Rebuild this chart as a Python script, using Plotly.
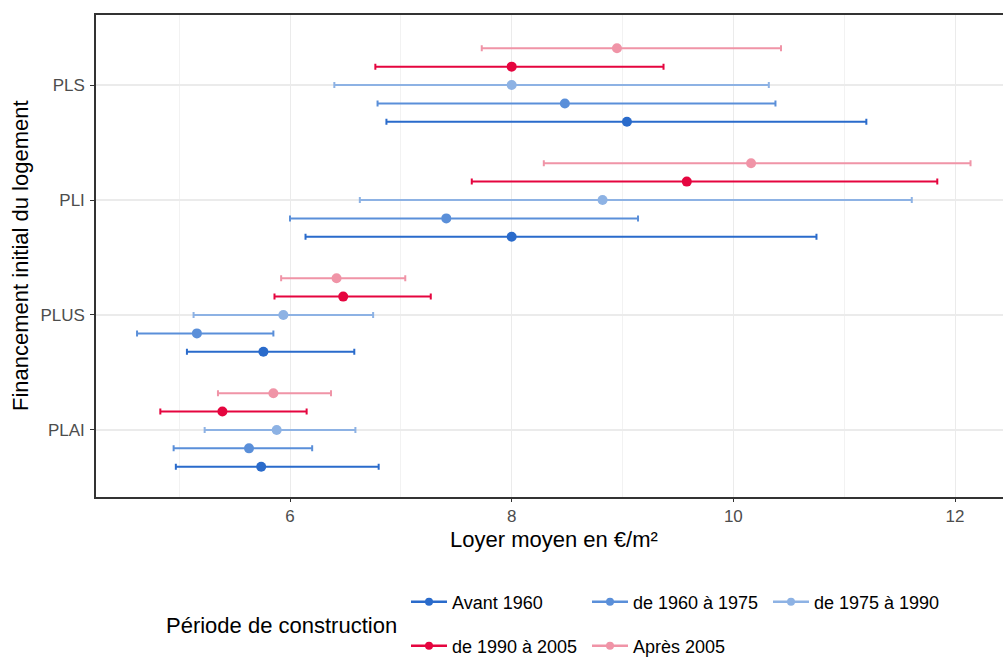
import plotly.graph_objects as go

# Funding categories (bottom to top) and construction periods
categories = ["PLAI", "PLUS", "PLI", "PLS"]
periods = ["Avant 1960", "de 1960 à 1975", "de 1975 à 1990", "de 1990 à 2005", "Après 2005"]
colors = ["#2A6BCB", "#5A8FD9", "#8DB2E4", "#E5053F", "#F094A7"]

# Mean rent (€/m²) and interval bounds, one value per category
avant_1960_mean = [5.74, 5.76, 8.00, 9.04]
avant_1960_low = [4.97, 5.07, 6.14, 6.87]
avant_1960_high = [6.80, 6.58, 10.75, 11.20]

p1960_1975_mean = [5.63, 5.16, 7.41, 8.48]
p1960_1975_low = [4.95, 4.62, 6.00, 6.79]
p1960_1975_high = [6.20, 5.85, 9.14, 10.38]

p1975_1990_mean = [5.88, 5.94, 8.82, 8.00]
p1975_1990_low = [5.23, 5.13, 6.63, 6.40]
p1975_1990_high = [6.59, 6.75, 11.61, 10.32]

p1990_2005_mean = [5.39, 6.48, 9.58, 8.00]
p1990_2005_low = [4.83, 5.86, 7.64, 6.77]
p1990_2005_high = [6.15, 7.27, 11.84, 9.37]

apres_2005_mean = [5.85, 6.42, 10.16, 8.95]
apres_2005_low = [5.35, 5.92, 8.29, 7.73]
apres_2005_high = [6.37, 7.04, 12.14, 10.43]

x_ticks = [6, 8, 10, 12]

series = [
    (avant_1960_mean, avant_1960_low, avant_1960_high),
    (p1960_1975_mean, p1960_1975_low, p1960_1975_high),
    (p1975_1990_mean, p1975_1990_low, p1975_1990_high),
    (p1990_2005_mean, p1990_2005_low, p1990_2005_high),
    (apres_2005_mean, apres_2005_low, apres_2005_high),
]

dodge_width = 0.8
n = len(periods)
step = dodge_width / n

fig = go.Figure()

for i, (name, color, (mean, low, high)) in enumerate(zip(periods, colors, series)):
    offset = (i - (n - 1) / 2) * step
    ys = [k + 1 + offset for k in range(len(categories))]
    fig.add_trace(go.Scatter(
        x=mean, y=ys, mode="markers", name=name,
        marker=dict(color=color, size=10),
        error_x=dict(
            type="data", symmetric=False,
            array=[h - m for h, m in zip(high, mean)],
            arrayminus=[m - l for m, l in zip(mean, low)],
            color=color, thickness=2, width=3,
        ),
        showlegend=False, hoverinfo="x+name",
    ))
    # legend entry: line through dot, split over two rows
    fig.add_trace(go.Scatter(
        x=[None], y=[None], mode="lines+markers", name=name,
        line=dict(color=color, width=2.5),
        marker=dict(color=color, size=8),
        legend="legend" if i < 3 else "legend2",
    ))

# figure and panel geometry (pixels)
W, H = 1003, 657
L, R, T, B = 96, 0, 15, 160
pw, ph = W - L - R, H - T - B


def px_x(p):
    return (p - L) / pw


def px_y(p):
    return (H - B - p) / ph


def cx(p):
    return p / W


def cy(p):
    return 1 - p / H


FAMILY = "Liberation Sans, Arial, sans-serif"
tick_font = dict(family=FAMILY, size=17, color="#4D4D4D")
title_font = dict(family=FAMILY, size=22, color="#000000")
legend_font = dict(family=FAMILY, size=18, color="#000000")

legend_common = dict(
    orientation="h", xanchor="left", yanchor="middle",
    xref="container", yref="container",
    entrywidth=130, entrywidthmode="pixels", itemwidth=36,
    font=legend_font, bgcolor="rgba(0,0,0,0)", itemclick=False,
)

fig.update_layout(
    width=W, height=H,
    margin=dict(l=L, r=R, t=T, b=B),
    paper_bgcolor="white", plot_bgcolor="white",
    xaxis=dict(
        range=[4.2496, 12.433],
        tickvals=x_ticks, ticktext=[str(t) for t in x_ticks],
        showgrid=True, gridcolor="#EBEBEB", gridwidth=1.2,
        minor=dict(dtick=1, tick0=5, showgrid=True, gridcolor="#F2F2F2", gridwidth=0.8),
        showline=True, linecolor="#333333", linewidth=1.5, mirror=True,
        ticks="outside", ticklen=3, tickcolor="#333333", tickwidth=1.2,
        ticklabelstandoff=0,
        tickfont=tick_font, zeroline=False,
    ),
    yaxis=dict(
        range=[0.417, 4.609],
        tickvals=[1, 2, 3, 4], ticktext=categories,
        showgrid=True, gridcolor="#EBEBEB", gridwidth=2,
        showline=True, linecolor="#333333", linewidth=1.5,
        ticks="outside", ticklen=4, tickcolor="#333333", tickwidth=1.2,
        ticklabelstandoff=2,
        tickfont=tick_font, zeroline=False,
    ),
    legend=dict(x=cx(406), y=cy(602), **legend_common),
    legend2=dict(x=cx(406), y=cy(646), **legend_common),
    annotations=[
        dict(text="Loyer moyen en €/m²", x=px_x(554), y=px_y(539), xref="paper", yref="paper",
             xanchor="center", yanchor="middle", showarrow=False, font=title_font),
        dict(text="Financement initial du logement", x=px_x(20), y=px_y(256),
             xref="paper", yref="paper", textangle=-90,
             xanchor="center", yanchor="middle", showarrow=False, font=title_font),
        dict(text="Période de construction", x=px_x(164), y=px_y(625), xref="paper", yref="paper",
             xanchor="left", yanchor="middle", showarrow=False, font=title_font),
    ],
    hovermode="closest",
)

fig.write_html("out.html")
